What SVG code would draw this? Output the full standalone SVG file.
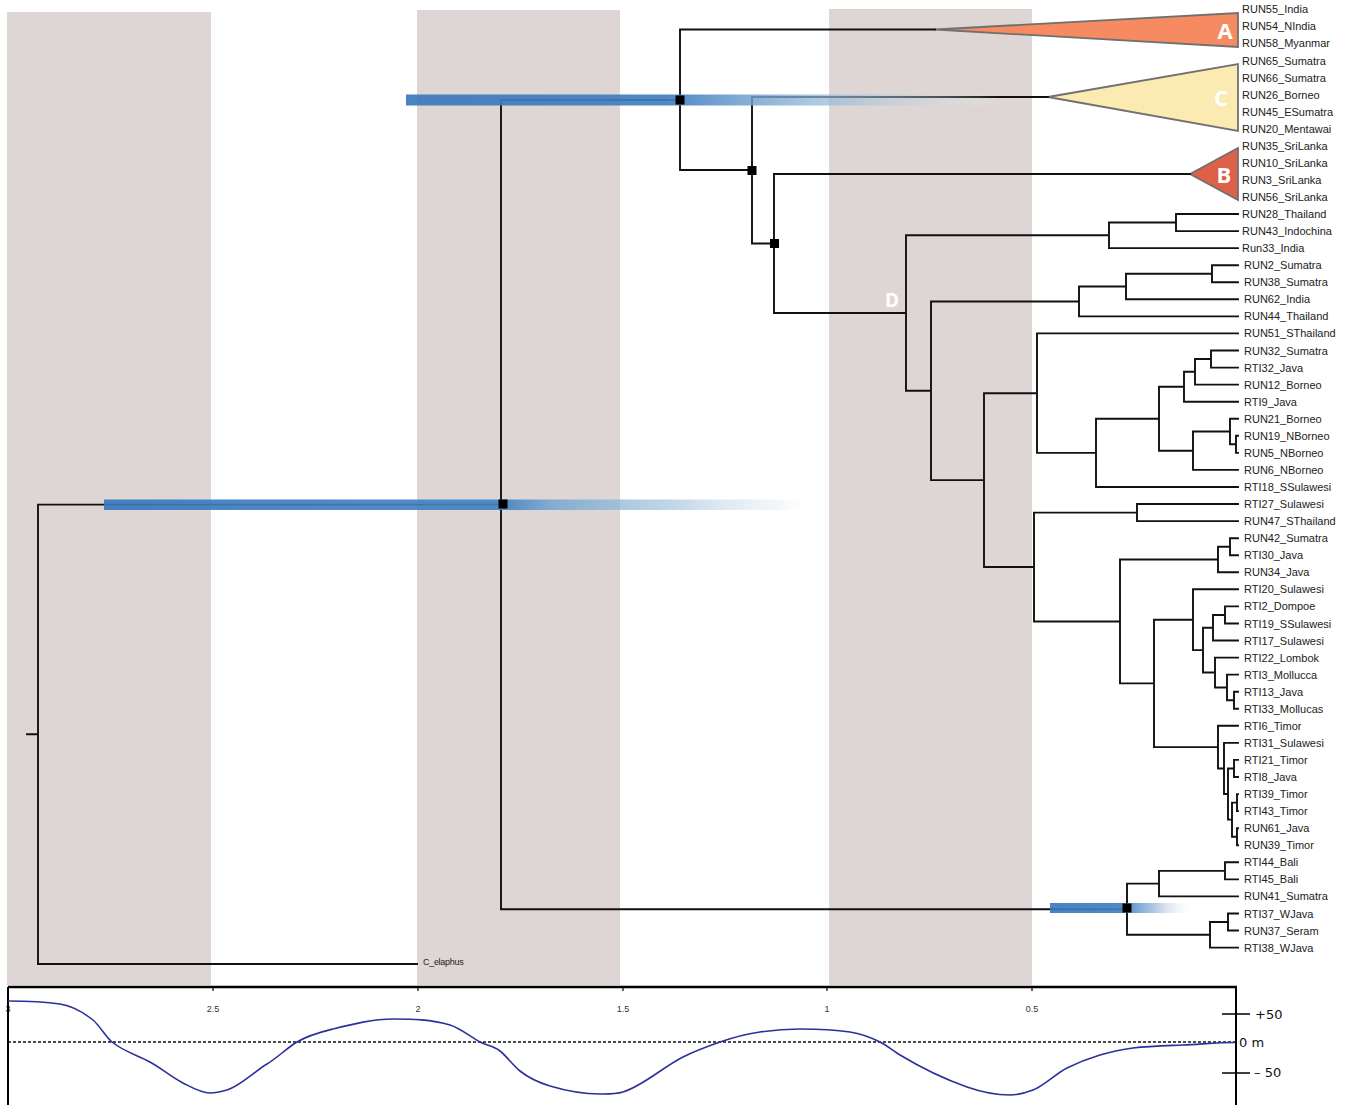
<svg xmlns="http://www.w3.org/2000/svg" width="1346" height="1105" viewBox="0 0 1346 1105">
<style>
.band{fill:#ddd6d4}
.br{fill:none;stroke:#111;stroke-width:1.9;stroke-linecap:square}
.tip{font-family:"Liberation Sans",Arial,sans-serif;font-size:11px;fill:#222}
.sq{fill:#000}
.tri{stroke:#707070;stroke-width:1.8;stroke-linejoin:miter}
.cl{font-family:"Open Sans","DejaVu Sans",sans-serif;font-weight:bold;fill:#fff;text-anchor:middle}
.tick{font-family:"Liberation Sans",Arial,sans-serif;font-size:9px;fill:#333;text-anchor:middle}
.sea{font-family:"DejaVu Sans",sans-serif;font-size:13px;fill:#111}
</style>
<defs>
<linearGradient id="g1" x1="0" y1="0" x2="1" y2="0">
<stop offset="0" stop-color="#3a78bd"/>
<stop offset="0.44" stop-color="#427fc0"/>
<stop offset="0.55" stop-color="#6a9bcc" stop-opacity="0.95"/>
<stop offset="0.72" stop-color="#97b9d8" stop-opacity="0.75"/>
<stop offset="0.9" stop-color="#c9d7e4" stop-opacity="0.35"/>
<stop offset="1" stop-color="#ffffff" stop-opacity="0"/>
</linearGradient>
<linearGradient id="g2" x1="0" y1="0" x2="1" y2="0">
<stop offset="0" stop-color="#3a78bd"/>
<stop offset="0.56" stop-color="#4683c2"/>
<stop offset="0.63" stop-color="#79a8d0" stop-opacity="0.95"/>
<stop offset="0.8" stop-color="#a8c6de" stop-opacity="0.75"/>
<stop offset="0.94" stop-color="#dfe8f0" stop-opacity="0.4"/>
<stop offset="1" stop-color="#ffffff" stop-opacity="0"/>
</linearGradient>
<linearGradient id="g3" x1="0" y1="0" x2="1" y2="0">
<stop offset="0" stop-color="#3a78bd"/>
<stop offset="0.52" stop-color="#4281c1"/>
<stop offset="0.72" stop-color="#8db0d5" stop-opacity="0.75"/>
<stop offset="1" stop-color="#ffffff" stop-opacity="0"/>
</linearGradient>
</defs>
<rect width="1346" height="1105" fill="#fff"/>
<g id="bands">
<rect class="band" x="7" y="12" width="204" height="973"/>
<rect class="band" x="417" y="10" width="203" height="975"/>
<rect class="band" x="829" y="9" width="203" height="976"/>
</g>
<g id="clades">
<g id="clade-A"><polygon class="tri" fill="#f68b62" points="935,29.5 1238,13 1238,47"/><text class="cl" x="1225" y="39" font-size="22">A</text></g>
<g id="clade-C"><polygon class="tri" fill="#fbeab2" points="1048,97 1238,64 1238,131"/><text class="cl" x="1221" y="106" font-size="22">C</text></g>
<g id="clade-B"><polygon class="tri" fill="#dd6148" points="1190,174 1238,148 1238,200"/><text class="cl" x="1224" y="183" font-size="22">B</text></g>
<g id="clade-D"><text class="cl" x="892" y="307" font-size="19">D</text></g>
</g>
<g id="connectors">
<path class="br" d="M27,734.3 H38 M38,504.6 V964 M38,504.6 H501 M38,964 H417
M501,100 V909.2 M501,100 H680 M501,909.2 H1127
M680,29.5 V170 M680,29.5 H935 M680,170 H752
M752,97 V243.5 M752,97 H1048 M752,243.5 H774
M774,174 V313 M774,174 H1190 M774,313 H906
M906,235.3 V390.8 M906,235.3 H1109 M906,390.8 H931
M1109,222.5 V248.1 M1109,222.5 H1176 M1109,248.1 H1238
M1176,214 V231.1 M1176,214 H1238 M1176,231.1 H1238
M931,301.5 V480.1 M931,301.5 H1079 M931,480.1 H984
M1079,286.5 V316.4 M1079,286.5 H1126 M1079,316.4 H1238
M1126,273.7 V299.3 M1126,273.7 H1212 M1126,299.3 H1238
M1212,265.2 V282.3 M1212,265.2 H1238 M1212,282.3 H1238
M984,393.2 V567 M984,393.2 H1037 M984,567 H1034
M1037,333.4 V452.9 M1037,333.4 H1238 M1037,452.9 H1096
M1096,418.7 V487 M1096,418.7 H1159 M1096,487 H1238
M1159,386.8 V450.7 M1159,386.8 H1184 M1159,450.7 H1193
M1184,371.8 V401.7 M1184,371.8 H1195 M1184,401.7 H1238
M1195,359 V384.6 M1195,359 H1211 M1195,384.6 H1238
M1211,350.5 V367.6 M1211,350.5 H1238 M1211,367.6 H1238
M1193,431.5 V469.9 M1193,431.5 H1230 M1193,469.9 H1238
M1230,418.7 V444.3 M1230,418.7 H1238 M1230,444.3 H1236
M1236,435.8 V452.9 M1236,435.8 H1238 M1236,452.9 H1238
M1034,512.6 V621.5 M1034,512.6 H1137 M1034,621.5 H1120
M1137,504 V521.1 M1137,504 H1238 M1137,521.1 H1238
M1120,559.5 V683.4 M1120,559.5 H1218 M1120,683.4 H1154
M1218,546.7 V572.3 M1218,546.7 H1230 M1218,572.3 H1238
M1230,538.2 V555.2 M1230,538.2 H1238 M1230,555.2 H1238
M1154,619.7 V747.1 M1154,619.7 H1193 M1154,747.1 H1218
M1193,589.3 V650.1 M1193,589.3 H1238 M1193,650.1 H1203
M1203,627.7 V672.5 M1203,627.7 H1213 M1203,672.5 H1215
M1213,615 V640.5 M1213,615 H1225 M1213,640.5 H1238
M1225,606.4 V623.5 M1225,606.4 H1238 M1225,623.5 H1238
M1215,657.6 V687.5 M1215,657.6 H1238 M1215,687.5 H1227
M1227,674.6 V700.3 M1227,674.6 H1238 M1227,700.3 H1234
M1234,691.7 V708.8 M1234,691.7 H1238 M1234,708.8 H1238
M1218,725.8 V768.5 M1218,725.8 H1238 M1218,768.5 H1224
M1224,742.9 V794 M1224,742.9 H1238 M1224,794 H1228
M1228,768.5 V819.6 M1228,768.5 H1234 M1228,819.6 H1232
M1234,759.9 V777 M1234,759.9 H1238 M1234,777 H1238
M1232,802.6 V836.7 M1232,802.6 H1237 M1232,836.7 H1237
M1237,794.1 V811.1 M1237,794.1 H1238 M1237,811.1 H1238
M1237,828.2 V845.2 M1237,828.2 H1238 M1237,845.2 H1238
M1127,883.6 V934.8 M1127,883.6 H1159 M1127,934.8 H1210
M1159,870.9 V896.4 M1159,870.9 H1225 M1159,896.4 H1238
M1225,862.3 V879.4 M1225,862.3 H1238 M1225,879.4 H1238
M1210,922 V947.6 M1210,922 H1228 M1210,947.6 H1238
M1228,913.5 V930.5 M1228,913.5 H1238 M1228,930.5 H1238"/>
</g>
<g id="hpd">
<rect x="406" y="94.5" width="594" height="11" fill="url(#g1)" opacity="0.92"/>
<rect x="104" y="499.5" width="716" height="10.5" fill="url(#g2)" opacity="0.92"/>
<rect x="1050" y="903" width="145" height="10" fill="url(#g3)" opacity="0.92"/>
</g>
<g id="nodes">
<rect class="sq" x="675.5" y="95.5" width="9" height="9"/>
<rect class="sq" x="747.5" y="166" width="9" height="9"/>
<rect class="sq" x="770" y="239" width="9" height="9"/>
<rect class="sq" x="498.5" y="499.5" width="9" height="9"/>
<rect class="sq" x="1122.5" y="903.5" width="9" height="9"/>
</g>
<g id="tips" class="tip">
<g id="t0"><text x="1242" y="13.3">RUN55_India</text></g>
<g id="t1"><text x="1242" y="30.4">RUN54_NIndia</text></g>
<g id="t2"><text x="1242" y="47.4">RUN58_Myanmar</text></g>
<g id="t3"><text x="1242" y="64.5">RUN65_Sumatra</text></g>
<g id="t4"><text x="1242" y="81.5">RUN66_Sumatra</text></g>
<g id="t5"><text x="1242" y="98.6">RUN26_Borneo</text></g>
<g id="t6"><text x="1242" y="115.7">RUN45_ESumatra</text></g>
<g id="t7"><text x="1242" y="132.7">RUN20_Mentawai</text></g>
<g id="t8"><text x="1242" y="149.8">RUN35_SriLanka</text></g>
<g id="t9"><text x="1242" y="166.8">RUN10_SriLanka</text></g>
<g id="t10"><text x="1242" y="183.9">RUN3_SriLanka</text></g>
<g id="t11"><text x="1242" y="201">RUN56_SriLanka</text></g>
<g id="t12"><text x="1242" y="218">RUN28_Thailand</text></g>
<g id="t13"><text x="1242" y="235.1">RUN43_Indochina</text></g>
<g id="t14"><text x="1242" y="252.1">Run33_India</text></g>
<g id="t15"><text x="1244" y="269.2">RUN2_Sumatra</text></g>
<g id="t16"><text x="1244" y="286.3">RUN38_Sumatra</text></g>
<g id="t17"><text x="1244" y="303.3">RUN62_India</text></g>
<g id="t18"><text x="1244" y="320.4">RUN44_Thailand</text></g>
<g id="t19"><text x="1244" y="337.4">RUN51_SThailand</text></g>
<g id="t20"><text x="1244" y="354.5">RUN32_Sumatra</text></g>
<g id="t21"><text x="1244" y="371.6">RTI32_Java</text></g>
<g id="t22"><text x="1244" y="388.6">RUN12_Borneo</text></g>
<g id="t23"><text x="1244" y="405.7">RTI9_Java</text></g>
<g id="t24"><text x="1244" y="422.7">RUN21_Borneo</text></g>
<g id="t25"><text x="1244" y="439.8">RUN19_NBorneo</text></g>
<g id="t26"><text x="1244" y="456.9">RUN5_NBorneo</text></g>
<g id="t27"><text x="1244" y="473.9">RUN6_NBorneo</text></g>
<g id="t28"><text x="1244" y="491">RTI18_SSulawesi</text></g>
<g id="t29"><text x="1244" y="508">RTI27_Sulawesi</text></g>
<g id="t30"><text x="1244" y="525.1">RUN47_SThailand</text></g>
<g id="t31"><text x="1244" y="542.2">RUN42_Sumatra</text></g>
<g id="t32"><text x="1244" y="559.2">RTI30_Java</text></g>
<g id="t33"><text x="1244" y="576.3">RUN34_Java</text></g>
<g id="t34"><text x="1244" y="593.3">RTI20_Sulawesi</text></g>
<g id="t35"><text x="1244" y="610.4">RTI2_Dompoe</text></g>
<g id="t36"><text x="1244" y="627.5">RTI19_SSulawesi</text></g>
<g id="t37"><text x="1244" y="644.5">RTI17_Sulawesi</text></g>
<g id="t38"><text x="1244" y="661.6">RTI22_Lombok</text></g>
<g id="t39"><text x="1244" y="678.6">RTI3_Mollucca</text></g>
<g id="t40"><text x="1244" y="695.7">RTI13_Java</text></g>
<g id="t41"><text x="1244" y="712.8">RTI33_Mollucas</text></g>
<g id="t42"><text x="1244" y="729.8">RTI6_Timor</text></g>
<g id="t43"><text x="1244" y="746.9">RTI31_Sulawesi</text></g>
<g id="t44"><text x="1244" y="763.9">RTI21_Timor</text></g>
<g id="t45"><text x="1244" y="781">RTI8_Java</text></g>
<g id="t46"><text x="1244" y="798.1">RTI39_Timor</text></g>
<g id="t47"><text x="1244" y="815.1">RTI43_Timor</text></g>
<g id="t48"><text x="1244" y="832.2">RUN61_Java</text></g>
<g id="t49"><text x="1244" y="849.2">RUN39_Timor</text></g>
<g id="t50"><text x="1244" y="866.3">RTI44_Bali</text></g>
<g id="t51"><text x="1244" y="883.4">RTI45_Bali</text></g>
<g id="t52"><text x="1244" y="900.4">RUN41_Sumatra</text></g>
<g id="t53"><text x="1244" y="917.5">RTI37_WJava</text></g>
<g id="t54"><text x="1244" y="934.5">RUN37_Seram</text></g>
<g id="t55"><text x="1244" y="951.6">RTI38_WJava</text></g>
<g id="outgroup"><text x="423" y="965" font-size="9" letter-spacing="-0.3">C_elaphus</text></g>
</g>
<g id="axis">
<path d="M8,987 H1237" stroke="#000" stroke-width="2.5" fill="none"/>
<path d="M213,987 V991 M418,987 V991 M623,987 V991 M827,987 V991 M1032,987 V991" stroke="#000" stroke-width="1.2"/>
<text class="tick" x="8" y="1012">3</text>
<text class="tick" x="213" y="1012">2.5</text>
<text class="tick" x="418" y="1012">2</text>
<text class="tick" x="623" y="1012">1.5</text>
<text class="tick" x="827" y="1012">1</text>
<text class="tick" x="1032" y="1012">0.5</text>
</g>
<g id="sealevel">
<path d="M8,987 V1105 M1236,987 V1105" stroke="#000" stroke-width="2" fill="none"/>
<path d="M1222,1014 H1250 M1222,1073 H1250" stroke="#000" stroke-width="1.5"/>
<path d="M8,1042 H1236" stroke="#111" stroke-width="1.4" stroke-dasharray="3,2" fill="none"/>
<path fill="none" stroke="#2b309a" stroke-width="1.6" d="M8,1001 C25.3,1001 42.7,1001.4 60,1004 C71,1005.7 82,1011.2 93,1020 C99.3,1025.1 105.7,1036.9 112,1042 C124.7,1052.1 137.3,1055 150,1062 C161,1068 172,1077.5 183,1083 C192,1087.5 201,1093 210,1093 C215.7,1093 221.3,1091.7 227,1090 C240.3,1086 253.7,1072 267,1064 C277,1058 287,1048 297,1042 C309,1034.8 321,1032 333,1029 C353,1024 373,1019 393,1019 C412,1019 431,1019.3 450,1025 C460,1028 470,1036.5 480,1042 C486.7,1045.7 493.3,1045.7 500,1051 C506.7,1056.3 513.3,1065.7 520,1071 C530,1079 540,1083 550,1086 C566.7,1091 583.3,1094 600,1094 C607.7,1094 615.3,1094.3 623,1092 C643,1086 663,1067 683,1057 C695.3,1050.8 707.7,1046.3 720,1042 C733.3,1037.3 746.7,1034 760,1032 C773.3,1030 786.7,1029 800,1029 C816.7,1029 833.3,1029.5 850,1032 C860,1033.5 870,1037 880,1042 C886.7,1045.3 893.3,1051 900,1055 C922.3,1068.4 944.7,1079.2 967,1087 C981.3,1092 995.7,1095 1010,1095 C1017.7,1095 1025.3,1093 1033,1090 C1044.3,1085.5 1055.7,1073.7 1067,1068 C1078,1062.5 1089,1058.3 1100,1055 C1111,1051.7 1122,1049.3 1133,1048 C1149.7,1046 1166.3,1045.7 1183,1045 C1200.3,1044.3 1217.7,1042.5 1235,1042.5"/>
<text class="sea" x="1255" y="1019">+50</text>
<text class="sea" x="1239" y="1047">0 m</text>
<text class="sea" x="1254" y="1077">– 50</text>
</g>
</svg>
